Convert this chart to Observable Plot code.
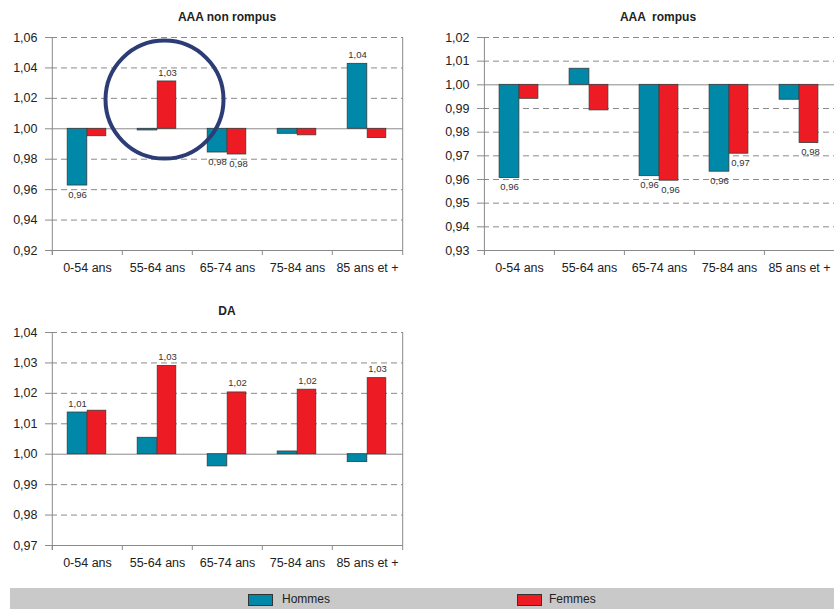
<!DOCTYPE html>
<html>
<head>
<meta charset="utf-8">
<script src="https://cdn.jsdelivr.net/npm/d3@7"></script>
<script src="https://cdn.jsdelivr.net/npm/@observablehq/plot@0.6"></script>
<style>
  html, body { margin: 0; padding: 0; background: #fff; width: 834px; height: 609px; overflow: hidden; position: relative; }
  .panel { position: absolute; }
  .title { position: absolute; font-family: "Liberation Sans", Arial, sans-serif; font-weight: bold; font-size: 12px; color: #222; transform: translate(-50%, -50%); white-space: pre; }
  g[aria-label="y-axis tick"], g[aria-label="x-axis tick"] { stroke: #8a8a8a; }
  #legend { position: absolute; left: 10px; top: 588px; width: 824px; height: 21px; background: #c9c9c9; font-family: "Liberation Sans", Arial, sans-serif; font-size: 12px; color: #222; }
  .sw { position: absolute; top: 6px; width: 23px; height: 10px; border: 1px solid #333; }
  .lt { position: absolute; top: 4px; }
</style>
</head>
<body>
<div id="p1" class="panel" style="left:0px; top:0px"></div>
<div id="p2" class="panel" style="left:420px; top:0px"></div>
<div id="p3" class="panel" style="left:0px; top:295px"></div>
<div class="title" style="left:227px; top:17px">AAA non rompus</div>
<div class="title" style="left:658px; top:17px">AAA  rompus</div>
<div class="title" style="left:227px; top:311px">DA</div>
<div id="legend">
  <div class="sw" style="left:238px; background:#0088a8"></div><div class="lt" style="left:272px">Hommes</div>
  <div class="sw" style="left:507px; background:#ed1c24"></div><div class="lt" style="left:539px">Femmes</div>
</div>
<script>
const ages = ["0-54 ans", "55-64 ans", "65-74 ans", "75-84 ans", "85 ans et +"];

const nonRompusHommes = [0.9627, 0.9989, 0.9844, 0.9967, 1.0427];
const nonRompusFemmes = [0.9951, 1.0311, 0.9831, 0.9957, 0.9939];
const nonRompusLabelsHommes = ["0,96", null, "0,98", null, "1,04"];
const nonRompusLabelsFemmes = [null, "1,03", "0,98", null, null];
const nonRompusTicks = [0.92, 0.94, 0.96, 0.98, 1.00, 1.02, 1.04, 1.06];

const rompusHommes = [0.9606, 1.0068, 0.9614, 0.9633, 0.9937];
const rompusFemmes = [0.9941, 0.9892, 0.9595, 0.9709, 0.9754];
const rompusLabelsHommes = ["0,96", null, "0,96", "0,96", null];
const rompusLabelsFemmes = [null, null, "0,96", "0,97", "0,98"];
const rompusTicks = [0.93, 0.94, 0.95, 0.96, 0.97, 0.98, 0.99, 1.00, 1.01, 1.02];

const daHommes = [1.0137, 1.0054, 0.9960, 1.0009, 0.9974];
const daFemmes = [1.0143, 1.0290, 1.0203, 1.0212, 1.0250];
const daLabelsHommes = ["1,01", null, null, null, null];
const daLabelsFemmes = [null, "1,03", "1,02", "1,02", "1,03"];
const daTicks = [0.97, 0.98, 0.99, 1.00, 1.01, 1.02, 1.03, 1.04];

const circleAge = ["55-64 ans"];
const circleValue = [1.0192];

const TEAL = "#0088a8", RED = "#ed1c24", GRID = "#8a8a8a";
const fmt = d => d3.format(".2f")(d).replace(".", ",");

function panel({hommes, femmes, labelsH, labelsF, ticks, width, marginLeft, marginRight, circle}) {
  const height = 285, marginTop = 37, marginBottom = 35;
  const bw = (width - marginLeft - marginRight) / ages.length;
  const ymin = d3.min(ticks), ymax = d3.max(ticks);
  const rows = ages.flatMap((a, i) => [
    {age: a, sexe: "Hommes", v: hommes[i], label: labelsH[i]},
    {age: a, sexe: "Femmes", v: femmes[i], label: labelsF[i]}
  ]);
  const H = rows.filter(d => d.sexe === "Hommes");
  const F = rows.filter(d => d.sexe === "Femmes");
  const labH = H.filter(d => d.label);
  const labF = F.filter(d => d.label);
  const lab = {x: "age", y: "v", text: "label", fontSize: 9.5, fill: "#333"};
  const marks = [
    Plot.ruleY(ticks.filter(t => t !== 1 && t !== ymin), {stroke: GRID, strokeDasharray: "6,4", strokeWidth: 1}),
    Plot.ruleY([1], {stroke: GRID, strokeWidth: 1}),
    Plot.ruleY([ymin], {stroke: GRID, strokeWidth: 1}),
    Plot.ruleX([ages[0]], {dx: -bw / 2, stroke: GRID, insetBottom: -5}),
    Plot.ruleX([ages[ages.length - 1]], {dx: bw / 2, stroke: GRID, insetBottom: -5}),
    Plot.axisX({tickSize: 5, tickFormat: () => "", dx: -bw / 2, label: null}),
    Plot.axisX({tickSize: 0, tickPadding: 13, fill: "#222", label: null}),
    Plot.axisY(ticks, {tickFormat: fmt, tickSize: 6, tickPadding: 8, fill: "#222", label: null}),
    Plot.barY(H, {x: "age", y1: 1, y2: "v", fill: TEAL, stroke: "#3a3a3a", strokeWidth: 0.8, insetLeft: bw / 2 - 20, insetRight: bw / 2}),
    Plot.barY(F, {x: "age", y1: 1, y2: "v", fill: RED, stroke: "#3a3a3a", strokeWidth: 0.8, insetLeft: bw / 2, insetRight: bw / 2 - 19}),
    Plot.text(labH.filter(d => d.v >= 1), {...lab, dx: -10, dy: -9}),
    Plot.text(labH.filter(d => d.v < 1), {...lab, dx: -10, dy: 9}),
    Plot.text(labF.filter(d => d.v >= 1), {...lab, dx: 10, dy: -9}),
    Plot.text(labF.filter(d => d.v < 1), {...lab, dx: 11, dy: 9})
  ];
  if (circle) {
    marks.push(Plot.dot(circle.age.map((a, i) => ({age: a, v: circle.value[i]})), {x: "age", y: "v", r: 59, dx: 7, stroke: "#2c3c74", strokeWidth: 4, fill: "none"}));
  }
  return Plot.plot({
    width, height, marginLeft, marginRight, marginTop, marginBottom,
    style: {fontFamily: "'Liberation Sans', Arial, sans-serif", fontSize: "12.5px", color: "#222", background: "transparent", overflow: "visible"},
    x: {domain: ages, padding: 0, axis: null},
    y: {domain: [ymin, ymax], axis: null},
    marks
  });
}

document.getElementById("p1").append(panel({
  hommes: nonRompusHommes, femmes: nonRompusFemmes, labelsH: nonRompusLabelsHommes, labelsF: nonRompusLabelsFemmes,
  ticks: nonRompusTicks, width: 420, marginLeft: 51, marginRight: 17,
  circle: {age: circleAge, value: circleValue}
}));
document.getElementById("p2").append(panel({
  hommes: rompusHommes, femmes: rompusFemmes, labelsH: rompusLabelsHommes, labelsF: rompusLabelsFemmes,
  ticks: rompusTicks, width: 414, marginLeft: 63, marginRight: 0
}));
document.getElementById("p3").append(panel({
  hommes: daHommes, femmes: daFemmes, labelsH: daLabelsHommes, labelsF: daLabelsFemmes,
  ticks: daTicks, width: 420, marginLeft: 51, marginRight: 17
}));
</script>
</body>
</html>
